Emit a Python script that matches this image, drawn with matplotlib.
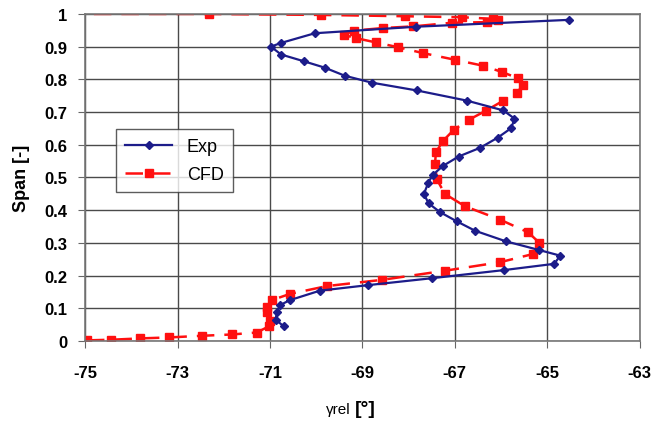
import matplotlib
matplotlib.use("Agg")
import matplotlib.pyplot as plt

plt.rcParams['font.family'] = ['Liberation Sans', 'DejaVu Sans']

# experimental data (gamma_rel in deg, span)
exp_gamma = [-70.70, -70.88, -70.85, -70.78, -70.57, -69.92, -68.87, -67.50, -65.93,
             -64.85, -64.72, -65.17, -65.90, -66.56, -66.96, -67.32, -67.57, -67.67,
             -67.58, -67.48, -67.25, -66.92, -66.45, -66.07, -65.78, -65.71, -65.95,
             -66.74, -67.82, -68.80, -69.38, -69.82, -70.26, -70.76, -70.98, -70.77,
             -70.03, -67.83, -64.52]
exp_span = [0.045, 0.065, 0.088, 0.110, 0.125, 0.154, 0.171, 0.192, 0.217,
            0.236, 0.261, 0.278, 0.305, 0.337, 0.366, 0.394, 0.421, 0.450,
            0.482, 0.508, 0.536, 0.564, 0.591, 0.622, 0.651, 0.680, 0.705,
            0.735, 0.766, 0.790, 0.811, 0.836, 0.855, 0.876, 0.900, 0.911,
            0.941, 0.961, 0.982]

# CFD data
cfd_gamma = [-76.0, -72.33, -69.90, -68.08, -66.85, -66.17, -66.06, -66.31, -67.07,
             -67.90, -68.55, -69.18, -69.40, -69.14, -68.71, -68.22, -67.68, -67.00,
             -66.40, -65.97, -65.63, -65.53, -65.66, -65.95, -66.33, -66.69, -67.02,
             -67.25, -67.41, -67.43, -67.39, -67.22, -66.78, -66.02, -65.41, -65.17,
             -65.31, -66.02, -67.21, -68.58, -69.77, -70.57, -70.96, -71.07, -71.07,
             -71.00, -71.02, -71.29, -71.83, -72.48, -73.18, -73.81, -74.43, -74.97]
cfd_span = [1.000, 1.000, 0.997, 0.993, 0.990, 0.985, 0.982, 0.975, 0.973,
            0.962, 0.957, 0.949, 0.936, 0.926, 0.913, 0.898, 0.880, 0.860,
            0.842, 0.822, 0.803, 0.783, 0.757, 0.735, 0.704, 0.677, 0.646,
            0.613, 0.577, 0.541, 0.495, 0.450, 0.412, 0.371, 0.332, 0.300,
            0.266, 0.241, 0.215, 0.187, 0.168, 0.144, 0.125, 0.105, 0.088,
            0.062, 0.045, 0.026, 0.020, 0.016, 0.011, 0.008, 0.004, 0.002]

xticks = [-75, -73, -71, -69, -67, -65, -63]
yticks = [0, 0.1, 0.2, 0.3, 0.4, 0.5, 0.6, 0.7, 0.8, 0.9, 1]
ytick_labels = ["0", "0.1", "0.2", "0.3", "0.4", "0.5", "0.6", "0.7", "0.8", "0.9", "1"]

fig = plt.figure(figsize=(6.65, 4.27), dpi=100)
ax = fig.add_axes([0.128, 0.199, 0.834, 0.766])

ax.plot(exp_gamma, exp_span, color='#1c1c8a', lw=1.6, marker='D', ms=4.5,
        label='Exp', zorder=3)
ax.plot(cfd_gamma, cfd_span, color='#ff1010', lw=1.8, ls=(0, (7, 4)), marker='s',
        ms=5.5, label='CFD', zorder=2)

ax.set_xlim(-75, -63)
ax.set_ylim(0, 1)
ax.set_xticks(xticks)
ax.set_xticklabels([str(t) for t in xticks])
ax.set_yticks(yticks)
ax.set_yticklabels(ytick_labels)
ax.tick_params(axis='x', direction='out', length=5, pad=12, labelsize=12,
               color='#666666')
ax.tick_params(axis='y', direction='out', length=5, pad=8, labelsize=12,
               color='#666666')
for lab in ax.get_xticklabels() + ax.get_yticklabels():
    lab.set_fontweight('bold')

ax.grid(True, color='#4a4a4a', lw=1.0)
ax.set_axisbelow(True)
for sp in ax.spines.values():
    sp.set_color('#777777')
    sp.set_linewidth(1.2)

ax.set_ylabel('Span [-]', fontsize=13, fontweight='bold', labelpad=10)

# x label: gamma rel [deg]
fig.text(0.527, 0.030, u'\u03b3rel', fontsize=11, ha='right', va='baseline')
fig.text(0.533, 0.030, u'[\u00b0]', fontsize=14, fontweight='bold', ha='left',
         va='baseline')

leg = ax.legend(loc='upper left', bbox_to_anchor=(0.040, 0.675), fontsize=13,
                frameon=True, fancybox=False, borderpad=0.5, handlelength=2.6,
                labelspacing=0.6)
leg.get_frame().set_edgecolor('#333333')
leg.get_frame().set_linewidth(1.0)

fig.savefig('out.png', dpi=100)
